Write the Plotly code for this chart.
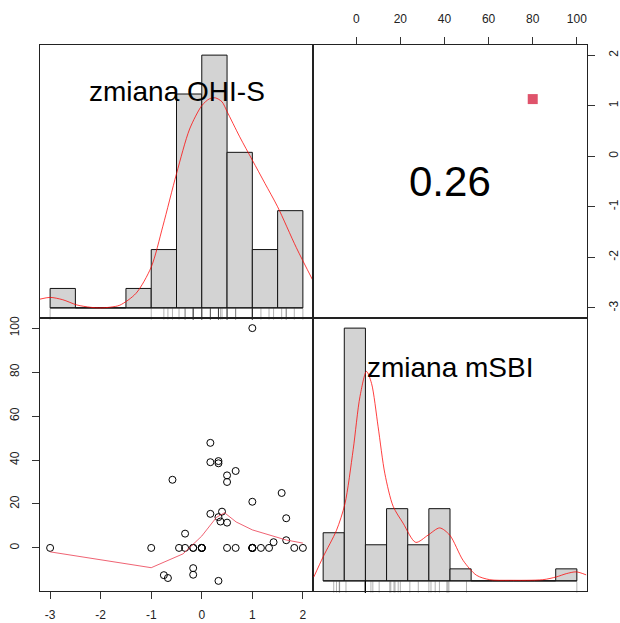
import plotly.graph_objects as go

W, H = 620, 623

# ---------------- data ----------------
ohis = [-3, -1, -0.75, -0.67, -0.58, -0.45, -0.33, -0.33, -0.17, -0.17, -0.17, -0.17,
        0, 0, 0, 0, 0.17, 0.17, 0.17, 0.33, 0.33, 0.33, 0.33, 0.4, 0.37,
        0.5, 0.5, 0.5, 0.5, 0.67, 0.67, 1, 1, 1, 1, 1, 1,
        1.17, 1.33, 1.42, 1.58, 1.67, 1.67, 1.83, 2]
msbi = [0, 0, -12.4, -13.7, 31, 0, 6.5, 0, 0, 0, -9.2, -12.2,
        0, 0, 0, 0, 47.8, 39, 15.5, 39.5, 38.5, -15, 14, 16.5, 12,
        11.5, 33, 30, 0, 35, 0, 21, 100, 0, 0, 0, 0,
        0, 0, 2.6, 25, 13.5, 3.5, 0, 0]

corr_text = "0.26"
label_ohis = "zmiana OHI-S"
label_msbi = "zmiana mSBI"

# histogram of zmiana OHI-S
ohis_breaks = [-3, -2.5, -2, -1.5, -1, -0.5, 0, 0.5, 1, 1.5, 2]
ohis_counts = [1, 0, 0, 1, 3, 11, 13, 8, 3, 5]
# histogram of zmiana mSBI
msbi_breaks = [-20, -10, 0, 10, 20, 30, 40, 50, 60, 70, 80, 90, 100]
msbi_counts = [4, 21, 3, 6, 3, 6, 1, 0, 0, 0, 0, 1]

# density curves (scaled to histogram counts)
ohis_dens_x = [-3.2, -3.0, -2.75, -2.47, -2.2, -2.0, -1.8, -1.62, -1.3, -1.0, -0.77, -0.5,
               -0.24, 0.0, 0.15, 0.27, 0.4, 0.5, 0.75, 1.0, 1.25, 1.5, 1.87, 2.2]
ohis_dens_y = [0.45, 0.54, 0.42, 0.15, 0.03, 0.0, 0.04, 0.14, 0.75, 2.1, 4.2, 6.9,
               9.2, 10.4, 10.75, 10.8, 10.6, 10.1, 8.8, 7.6, 6.4, 5.2, 3.1, 1.4]
msbi_dens_x = [-24.4, -20.0, -13.7, -9.7, -5.8, -2.6, 0.5, 2.9, 6.0, 9.2, 13.1, 17.8,
               23.8, 29.6, 35.1, 39.9, 46.2, 52.5, 58.8, 68.2, 83.9, 90.3, 95.0, 99.7, 104.4]
msbi_dens_y = [0.33, 2.0, 4.2, 6.4, 10.9, 15.3, 17.4, 16.4, 12.8, 8.9, 6.2, 4.8,
               3.2, 3.8, 4.4, 3.8, 1.7, 0.47, 0.1, 0.05, 0.1, 0.33, 0.6, 0.75, 0.5]

# smoothed fit in the scatter panel
fit_x = [-3, -1, -0.37, 0, 0.29, 0.45, 0.68, 1.0, 1.67, 2.0]
fit_y = [-1.8, -9.0, -2.7, 5.4, 13.9, 16.0, 11.8, 8.2, 3.6, 2.2]

# marker in the correlation panel
sq_x = [80]
sq_y = [1.13]

ohis_ticks = [-3, -2, -1, 0, 1, 2]
ohis_ticktext = ["-3", "-2", "-1", "0", "1", "2"]
msbi_ticks = [0, 20, 40, 60, 80, 100]
msbi_ticktext = ["0", "20", "40", "60", "80", "100"]

# ---------------- layout geometry ----------------
def ext(lo, hi):
    d = (hi - lo) * 0.04
    return [lo - d, hi + d]

r_ohis = ext(min(ohis), max(ohis))
r_msbi = ext(min(msbi), max(msbi))
r_h1x = ext(ohis_breaks[0], ohis_breaks[-1])
r_h2x = ext(msbi_breaks[0], msbi_breaks[-1])
r_h1y = ext(0, max(ohis_counts))
r_h2y = ext(0, max(msbi_counts))

xL = [40 / W, 313 / W]
xR = [313 / W, 587 / W]
yT = [(H - 318) / H, (H - 45) / H]
yB = [(H - 591) / H, (H - 318) / H]

RED = "rgba(255,0,0,0.75)"
FIT = "rgba(235,60,80,0.8)"
FONT = "Liberation Sans, Arial, sans-serif"

fig = go.Figure()

def hist_traces(breaks, counts, xa, ya):
    centers = [(breaks[i] + breaks[i + 1]) / 2 for i in range(len(counts))]
    widths = [breaks[i + 1] - breaks[i] for i in range(len(counts))]
    fig.add_trace(go.Bar(x=centers, y=counts, width=widths, base=0,
                         marker=dict(color="#D3D3D3", line=dict(color="#111", width=1)),
                         xaxis=xa, yaxis=ya, showlegend=False, hoverinfo="skip"))
    fig.add_trace(go.Scatter(x=[breaks[0], breaks[-1]], y=[0, 0], mode="lines",
                             line=dict(color="#111", width=1), xaxis=xa, yaxis=ya,
                             showlegend=False, hoverinfo="skip"))

def rug(vals, xa, ya, yr):
    # ticks 8 px tall from the panel bottom
    span = yr[1] - yr[0]
    yc = yr[0] + span * (4 / 273)
    fig.add_trace(go.Scatter(x=vals, y=[yc] * len(vals), mode="markers",
                             marker=dict(symbol="line-ns", size=8,
                                         line=dict(color="rgba(0,0,0,0.3)", width=1)),
                             xaxis=xa, yaxis=ya, showlegend=False, hoverinfo="skip",
                             cliponaxis=False))

# top-left: histogram OHI-S
hist_traces(ohis_breaks, ohis_counts, "x", "y")
fig.add_trace(go.Scatter(x=ohis_dens_x, y=ohis_dens_y, mode="lines",
                         line=dict(color=RED, width=1, shape="spline", smoothing=0.8),
                         xaxis="x", yaxis="y", showlegend=False, hoverinfo="skip"))
rug(ohis, "x", "y", r_h1y)

# top-right: correlation
fig.add_trace(go.Scatter(x=sq_x, y=sq_y, mode="markers",
                         marker=dict(symbol="square", size=10, color="#DF536B"),
                         xaxis="x2", yaxis="y2", showlegend=False, hoverinfo="skip"))

# bottom-left: scatter
fig.add_trace(go.Scatter(x=ohis, y=msbi, mode="markers",
                         marker=dict(symbol="circle-open", size=7, color="black", line=dict(width=1)),
                         xaxis="x3", yaxis="y3", showlegend=False))
fig.add_trace(go.Scatter(x=fit_x, y=fit_y, mode="lines", line=dict(color=FIT, width=1),
                         xaxis="x3", yaxis="y3", showlegend=False, hoverinfo="skip"))

# bottom-right: histogram mSBI
hist_traces(msbi_breaks, msbi_counts, "x4", "y4")
fig.add_trace(go.Scatter(x=msbi_dens_x, y=msbi_dens_y, mode="lines",
                         line=dict(color=RED, width=1, shape="spline", smoothing=0.8),
                         xaxis="x4", yaxis="y4", showlegend=False, hoverinfo="skip"))
rug(msbi, "x4", "y4", r_h2y)

box = dict(showline=True, mirror=True, linecolor="#222", linewidth=1,
           showgrid=False, zeroline=False, fixedrange=True, automargin=False)
tickf = dict(family=FONT, size=12, color="#222")
noticks = dict(showticklabels=False, ticks="")

def withticks(standoff):
    return dict(ticks="outside", ticklen=7, tickcolor="#333", tickwidth=1, tickfont=tickf,
                ticklabelstandoff=standoff)

fig.update_layout(
    width=W, height=H, autosize=False,
    margin=dict(l=0, r=0, t=0, b=0, autoexpand=False),
    paper_bgcolor="white", plot_bgcolor="white",
    barmode="overlay", showlegend=False,
    xaxis=dict(domain=xL, anchor="y", range=r_h1x, **box, **noticks),
    yaxis=dict(domain=yT, anchor="x", range=r_h1y, **box, **noticks),
    xaxis2=dict(domain=xR, anchor="y2", range=r_msbi, side="top",
                tickvals=msbi_ticks, ticktext=msbi_ticktext, **box, **withticks(9)),
    yaxis2=dict(domain=yT, anchor="x2", range=r_ohis, side="right",
                tickvals=ohis_ticks, ticktext=ohis_ticktext, tickangle=-90, **box, **withticks(9)),
    xaxis3=dict(domain=xL, anchor="y3", range=r_ohis,
                tickvals=ohis_ticks, ticktext=ohis_ticktext, **box, **withticks(6)),
    yaxis3=dict(domain=yB, anchor="x3", range=r_msbi,
                tickvals=msbi_ticks, ticktext=msbi_ticktext, tickangle=-90, **box, **withticks(8)),
    xaxis4=dict(domain=xR, anchor="y4", range=r_h2x, **box, **noticks),
    yaxis4=dict(domain=yB, anchor="x4", range=r_h2y, **box, **noticks),
    annotations=[
        dict(text=label_ohis, xref="x domain", yref="y domain", x=0.5, y=0.828,
             showarrow=False, font=dict(family=FONT, size=28, color="black"),
             xanchor="center", yanchor="middle"),
        dict(text=corr_text, xref="x2 domain", yref="y2 domain", x=0.5, y=0.5,
             showarrow=False, font=dict(family=FONT, size=42, color="black"),
             xanchor="center", yanchor="middle"),
        dict(text=label_msbi, xref="x4 domain", yref="y4 domain", x=0.5, y=0.82,
             showarrow=False, font=dict(family=FONT, size=28, color="black"),
             xanchor="center", yanchor="middle"),
    ],
)

fig.write_html("out.html")
